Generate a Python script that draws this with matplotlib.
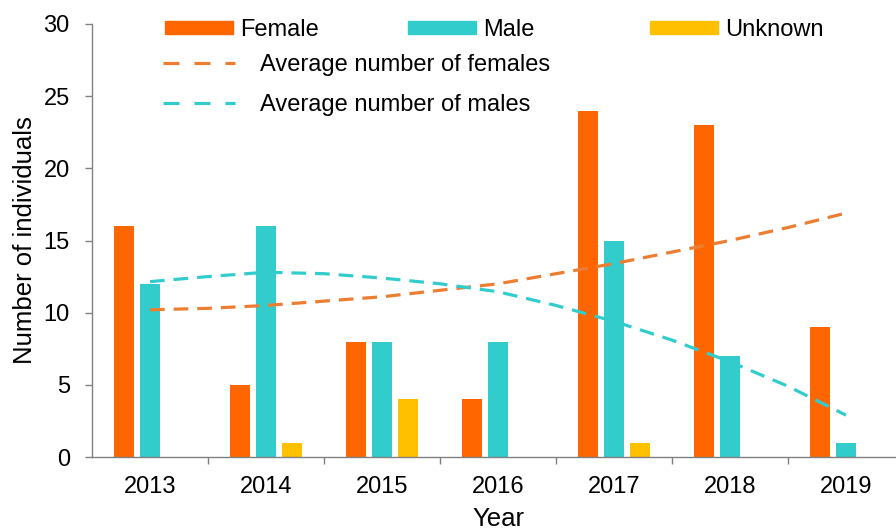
import numpy as np
import matplotlib
matplotlib.use("Agg")
import matplotlib.pyplot as plt
from matplotlib.lines import Line2D
from matplotlib.patches import Patch

plt.rcParams['font.family'] = ['Liberation Sans', 'DejaVu Sans']

# data
years = ["2013", "2014", "2015", "2016", "2017", "2018", "2019"]
female = [16, 5, 8, 4, 24, 23, 9]
male = [12, 16, 8, 8, 15, 7, 1]
unknown = [0, 1, 4, 0, 1, 0, 0]

# trend curves, read at every half year
trend_x = [2013, 2013.5, 2014, 2014.5, 2015, 2015.5, 2016, 2016.5,
           2017, 2017.5, 2018, 2018.5, 2019]
trend_female = [10.2, 10.3, 10.5, 10.8, 11.1, 11.55, 12.0, 12.7,
                13.4, 14.2, 15.0, 15.9, 16.9]
trend_male = [12.15, 12.5, 12.8, 12.7, 12.4, 12.0, 11.45, 10.5,
              9.4, 8.1, 6.6, 4.9, 2.9]

c_female = "#FF6600"
c_male = "#33CCCC"
c_unknown = "#FFC000"
c_trend_f = "#ED7D31"
c_trend_m = "#33CCCC"

W, H = 896, 532
fs = 17
fig = plt.figure(figsize=(W / 100, H / 100), dpi=100)
ax = fig.add_axes([92 / W, (H - 457) / H, 812 / W, 433 / H])

x = np.arange(len(years))
step = 0.222
bw = 0.172
ax.bar(x - step, female, bw, color=c_female, zorder=2)
ax.bar(x, male, bw, color=c_male, zorder=2)
ax.bar(x + step, unknown, bw, color=c_unknown, zorder=2)

tx = np.array(trend_x) - 2013
ax.plot(tx, trend_female, color=c_trend_f, lw=2.3, dashes=(4.6, 2.8), zorder=3)
ax.plot(tx, trend_male, color=c_trend_m, lw=2.3, dashes=(4.6, 2.8), zorder=3)

ax.set_xlim(-0.5, 6.5)
ax.set_ylim(0, 30)
ax.set_yticks(range(0, 31, 5))
ax.set_xticks(x)
ax.set_xticklabels(years)
ax.set_xticks(np.arange(0.5, 6.5, 1), minor=True)
ax.tick_params(axis='x', which='major', length=0, labelsize=fs, pad=14)
ax.tick_params(axis='x', which='minor', length=5, width=1, color="#808080")
ax.tick_params(axis='y', length=5, width=1, color="#808080", labelsize=fs, pad=11)

for s in ("top", "right"):
    ax.spines[s].set_visible(False)
for s in ("left", "bottom"):
    ax.spines[s].set_color("#808080")
    ax.spines[s].set_linewidth(1)

ax.set_ylabel("Number of individuals", fontsize=18.5, labelpad=5)
ax.set_xlabel("Year", fontsize=18.5, labelpad=6)

# bar legend entries, each placed on its own
entries = [("Female", c_female, 165), ("Male", c_male, 408), ("Unknown", c_unknown, 650)]
for label, col, px in entries:
    fig.legend([Patch(color=col)], [label], loc="upper left",
               bbox_to_anchor=(px / W, 1 - 19 / H), frameon=False,
               fontsize=fs, borderpad=0, borderaxespad=0,
               handlelength=2.88, handleheight=0.47, handletextpad=0.3)

fig.legend(
    [Line2D([], [], color=c_trend_f, lw=2.3, dashes=(5, 4.7)),
     Line2D([], [], color=c_trend_m, lw=2.3, dashes=(5, 4.7))],
    ["Average number of females", "Average number of males"],
    loc="upper left", bbox_to_anchor=(163 / W, 1 - 54 / H), frameon=False,
    fontsize=fs, borderpad=0, borderaxespad=0, handlelength=3.05,
    handletextpad=1.06, labelspacing=0.76)

fig.savefig("out.png", dpi=100)
